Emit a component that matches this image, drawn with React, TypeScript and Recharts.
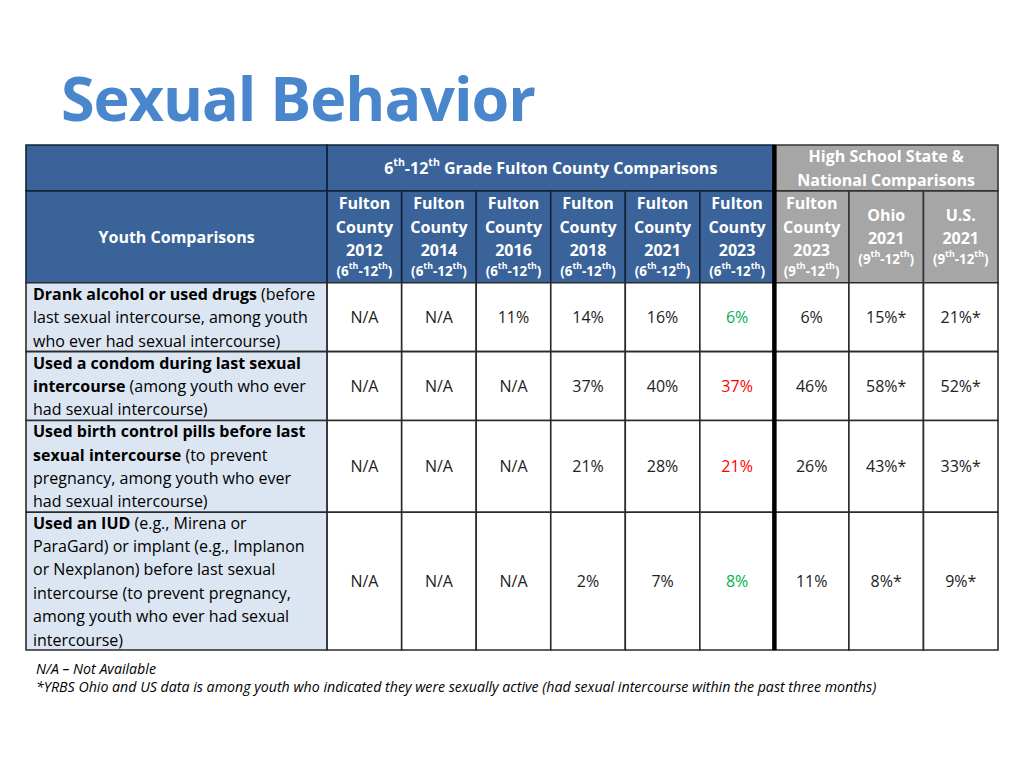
import React from "react";
import { ScatterChart, Scatter, XAxis, YAxis, ReferenceArea, ReferenceLine } from "recharts";

// column headers
const places = [
  "Fulton County", "Fulton County", "Fulton County", "Fulton County", "Fulton County",
  "Fulton County", "Fulton County", "Ohio", "U.S.",
];
const years = ["2012", "2014", "2016", "2018", "2021", "2023", "2023", "2021", "2021"];
const grades = [
  "(6^th^-12^th^)", "(6^th^-12^th^)", "(6^th^-12^th^)", "(6^th^-12^th^)", "(6^th^-12^th^)",
  "(6^th^-12^th^)", "(9^th^-12^th^)", "(9^th^-12^th^)", "(9^th^-12^th^)",
];
const countyGroup = "6^th^-12^th^ Grade Fulton County Comparisons";
const stateGroup = ["High School State &", "National Comparisons"];

// row labels (** = bold)
const measures = [
  ["**Drank alcohol or used drugs** (before", "last sexual intercourse, among youth", "who ever had sexual intercourse)"],
  ["**Used a condom during last sexual**", "**intercourse** (among youth who ever", "had sexual intercourse)"],
  ["**Used birth control pills before last**", "**sexual intercourse** (to prevent", "pregnancy, among youth who ever", "had sexual intercourse)"],
  ["**Used an IUD** (e.g., Mirena or", "ParaGard) or implant (e.g., Implanon", "or Nexplanon) before last sexual", "intercourse (to prevent pregnancy,", "among youth who ever had sexual", "intercourse)"],
];

const drankAlcohol = ["N/A", "N/A", "11%", "14%", "16%", "6%", "6%", "15%*", "21%*"];
const usedCondom = ["N/A", "N/A", "N/A", "37%", "40%", "37%", "46%", "58%*", "52%*"];
const birthControl = ["N/A", "N/A", "N/A", "21%", "28%", "21%", "26%", "43%*", "33%*"];
const iudImplant = ["N/A", "N/A", "N/A", "2%", "7%", "8%", "11%", "8%*", "9%*"];
const values = [drankAlcohol, usedCondom, birthControl, iudImplant];
// 2023 (6th-12th) compared with 2021
const change2023 = ["better", "worse", "worse", "better"];

const BLUE = "#3a6399";
const GREY = "#a6a6a6";
const LIGHT = "#dce6f2";
const FONT = "'Open Sans', sans-serif";

// header rows are 2 and 4 text lines tall, body rows follow their labels
const headerLines = [2, 4];
const rowLines = [...headerLines, ...measures.map((m) => m.length)];
const rowTop: number[] = [];
rowLines.reduce((acc, n, i) => {
  rowTop[i] = acc;
  return acc + n;
}, 0);
const totalLines = rowLines.reduce((a, b) => a + b, 0);
const rowMid = (i: number) => rowTop[i] + rowLines[i] / 2;
const labelSpan = 4.04;
const totalCols = labelSpan + places.length;
const groupSplit = labelSpan + 6;

function rich(str: string, size: number, weight: string) {
  const parts = str.split(/(\*\*|\^)/);
  let bold = false;
  let sup = false;
  let shifted = 0;
  const out: React.ReactNode[] = [];
  parts.forEach((p, i) => {
    if (p === "**") { bold = !bold; return; }
    if (p === "^") { sup = !sup; return; }
    if (!p) return;
    const want = sup ? -size * 0.36 : 0;
    const dy = want - shifted;
    shifted = want;
    out.push(
      <tspan key={i} dy={dy || undefined} fontWeight={bold ? "bold" : weight} fontSize={sup ? size * 0.66 : size}>
        {p}
      </tspan>
    );
  });
  return out;
}

function HeaderText(props: any) {
  const { cx, cy, payload } = props;
  const { lines, note } = payload;
  const pitch = 23.5;
  const gap = 20.5;
  const span = (lines.length - 1) * pitch + (note ? gap : 0);
  const top = cy - span / 2;
  return (
    <g>
      {lines.map((l: string, i: number) => (
        <text key={i} x={cx} y={top + i * pitch} textAnchor="middle" dominantBaseline="central" fill="#fff" fontFamily={FONT}>
          {rich(l, 16, "bold")}
        </text>
      ))}
      {note && (
        <text x={cx} y={top + span} textAnchor="middle" dominantBaseline="central" fill="#fff" fontFamily={FONT}>
          {rich(note, 13.4, "bold")}
        </text>
      )}
    </g>
  );
}

function LabelText(props: any) {
  const { cx, cy, payload } = props;
  const lines: string[] = payload.lines;
  const pitch = 23.4;
  const top = cy - ((lines.length - 1) * pitch) / 2;
  return (
    <g>
      {lines.map((l, i) => (
        <text key={i} x={cx + 7} y={top + i * pitch} dominantBaseline="central" fill="#000" fontFamily={FONT}>
          {rich(l, 16, "normal")}
        </text>
      ))}
    </g>
  );
}

function ValueText(props: any) {
  const { cx, cy, payload } = props;
  return (
    <text x={cx} y={cy} textAnchor="middle" dominantBaseline="central" fill={payload.color} fontFamily={FONT} fontSize={16}>
      {payload.text}
    </text>
  );
}

const headerPoints = [
  { x: (labelSpan + groupSplit) / 2, y: rowMid(0), lines: [countyGroup] },
  { x: (groupSplit + totalCols) / 2, y: rowMid(0), lines: stateGroup },
  { x: labelSpan / 2, y: rowMid(1), lines: ["Youth Comparisons"] },
  ...places.map((p, i) => ({
    x: labelSpan + i + 0.5,
    y: rowMid(1),
    lines: [...p.split(" "), years[i]],
    note: grades[i],
  })),
];

const labelPoints = measures.map((lines, r) => ({ x: 0, y: rowMid(r + 2), lines }));

const valuePoints = values.flatMap((row, r) =>
  row.map((v, i) => ({
    x: labelSpan + i + 0.5,
    y: rowMid(r + 2),
    text: v,
    color: i === 5 ? (change2023[r] === "better" ? "#00b050" : "#ff0000") : "#222",
  }))
);

type Cell = { x1: number; x2: number; y1: number; y2: number; fill: string; stroke: string };
const cells: Cell[] = [
  { x1: 0, x2: labelSpan, y1: rowTop[0], y2: rowTop[1], fill: BLUE, stroke: "#14233a" },
  { x1: labelSpan, x2: groupSplit, y1: rowTop[0], y2: rowTop[1], fill: BLUE, stroke: "#14233a" },
  { x1: groupSplit, x2: totalCols, y1: rowTop[0], y2: rowTop[1], fill: GREY, stroke: "#333" },
  { x1: 0, x2: labelSpan, y1: rowTop[1], y2: rowTop[2], fill: BLUE, stroke: "#14233a" },
  ...places.map((_, i) => ({
    x1: labelSpan + i,
    x2: labelSpan + i + 1,
    y1: rowTop[1],
    y2: rowTop[2],
    fill: labelSpan + i < groupSplit ? BLUE : GREY,
    stroke: labelSpan + i < groupSplit ? "#14233a" : "#333",
  })),
  ...measures.flatMap((_, r) => [
    { x1: 0, x2: labelSpan, y1: rowTop[r + 2], y2: rowTop[r + 3] ?? totalLines, fill: LIGHT, stroke: "#2b2b2b" },
    ...places.map((_, i) => ({
      x1: labelSpan + i,
      x2: labelSpan + i + 1,
      y1: rowTop[r + 2],
      y2: rowTop[r + 3] ?? totalLines,
      fill: "#ffffff",
      stroke: "#2b2b2b",
    })),
  ]),
];

export default function App() {
  return (
    <div style={{ position: "absolute", left: 0, top: 0, width: 1024, height: 768, background: "#fff", fontFamily: FONT }}>
      <div
        style={{
          position: "absolute",
          left: 61,
          top: 58,
          fontSize: 61,
          fontWeight: 700,
          letterSpacing: -1,
          color: "#4a86cc",
          lineHeight: "80px",
          whiteSpace: "nowrap",
        }}
      >
        Sexual Behavior
      </div>
      <div style={{ position: "absolute", left: 0, top: 0 }}>
        <ScatterChart width={1024} height={768} margin={{ top: 145, right: 26, bottom: 118, left: 26 }}>
          <XAxis type="number" dataKey="x" domain={[0, totalCols]} hide />
          <YAxis type="number" dataKey="y" domain={[0, totalLines]} reversed hide />
          {cells.map((c, i) => (
            <ReferenceArea
              key={i}
              x1={c.x1}
              x2={c.x2}
              y1={c.y1}
              y2={c.y2}
              fill={c.fill}
              fillOpacity={1}
              stroke={c.stroke}
              strokeWidth={1.6}
              ifOverflow="visible"
            />
          ))}
          <ReferenceLine x={groupSplit} stroke="#000" strokeWidth={4.5} ifOverflow="visible" />
          <Scatter data={headerPoints} shape={HeaderText} isAnimationActive={false} />
          <Scatter data={labelPoints} shape={LabelText} isAnimationActive={false} />
          <Scatter data={valuePoints} shape={ValueText} isAnimationActive={false} />
        </ScatterChart>
      </div>
      <div
        style={{
          position: "absolute",
          left: 36,
          top: 660,
          fontSize: 14.2,
          fontStyle: "italic",
          lineHeight: "18px",
          color: "#000",
          whiteSpace: "nowrap",
        }}
      >
        <div>N/A – Not Available</div>
        <div>*YRBS Ohio and US data is among youth who indicated they were sexually active (had sexual intercourse within the past three months)</div>
      </div>
    </div>
  );
}
